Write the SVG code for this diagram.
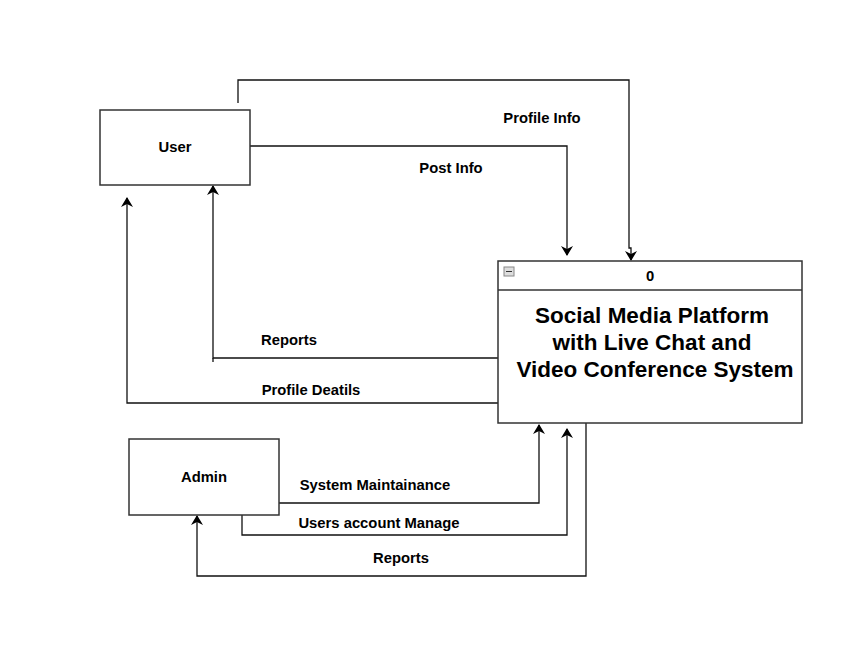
<svg xmlns="http://www.w3.org/2000/svg" width="851" height="649" viewBox="0 0 851 649">
<style>
.box{fill:#fff;stroke:#333;stroke-width:1.5}
.ln{fill:none;stroke:#111;stroke-width:1.3}
.lbl{font-family:"Liberation Sans",Arial,sans-serif;font-weight:bold;font-size:14.8px;fill:#000;text-anchor:middle}
.title{font-family:"Liberation Sans",Arial,sans-serif;font-weight:bold;font-size:22.5px;fill:#000;text-anchor:middle}
</style>
<defs>
<marker id="arr" viewBox="0 0 10 12" refX="9" refY="6" markerWidth="11" markerHeight="12" markerUnits="userSpaceOnUse" orient="auto">
<path d="M0,0 L10,6 L0,12 L3,6 Z" fill="#000"/>
</marker>
</defs>
<rect width="851" height="649" fill="#fff"/>
<g id="connectors">
<path class="ln" d="M238,103 V80 H629 V248 H631 V260" marker-end="url(#arr)"/>
<path class="ln" d="M250,146 H567 V255" marker-end="url(#arr)"/>
<path class="ln" d="M498,358 H213 V186" marker-end="url(#arr)"/>
<path class="ln" d="M213,358 V362"/>
<path class="ln" d="M498,403 H127 V198" marker-end="url(#arr)"/>
<path class="ln" d="M279,503 H539 V425" marker-end="url(#arr)"/>
<path class="ln" d="M242,515 V535 H567 V429" marker-end="url(#arr)"/>
<path class="ln" d="M586,423 V576 H197 V516" marker-end="url(#arr)"/>
<text class="lbl" x="542" y="123">Profile Info</text>
<text class="lbl" x="451" y="173">Post Info</text>
<text class="lbl" x="289" y="345">Reports</text>
<text class="lbl" x="311" y="395">Profile Deatils</text>
<text class="lbl" x="375" y="490">System Maintainance</text>
<text class="lbl" x="379" y="528">Users account Manage</text>
<text class="lbl" x="401" y="563">Reports</text>
</g>
<g id="user">
<rect class="box" x="100" y="110" width="150" height="75"/>
<text class="lbl" x="175" y="152">User</text>
</g>
<g id="admin">
<rect class="box" x="129" y="439" width="150" height="76"/>
<text class="lbl" x="204" y="482">Admin</text>
</g>
<g id="process">
<rect class="box" x="498" y="261" width="304" height="162"/>
<line x1="498" y1="290" x2="802" y2="290" stroke="#333" stroke-width="1.5"/>
<rect x="504" y="267" width="10" height="9" fill="#ddd" stroke="#888" stroke-width="1"/>
<line x1="506" y1="271.5" x2="512" y2="271.5" stroke="#333" stroke-width="1"/>
<text class="lbl" x="650" y="281">0</text>
<text class="title" x="652" y="323">Social Media Platform</text>
<text class="title" x="652" y="350">with Live Chat and</text>
<text class="title" x="655" y="377">Video Conference System</text>
</g>
</svg>
